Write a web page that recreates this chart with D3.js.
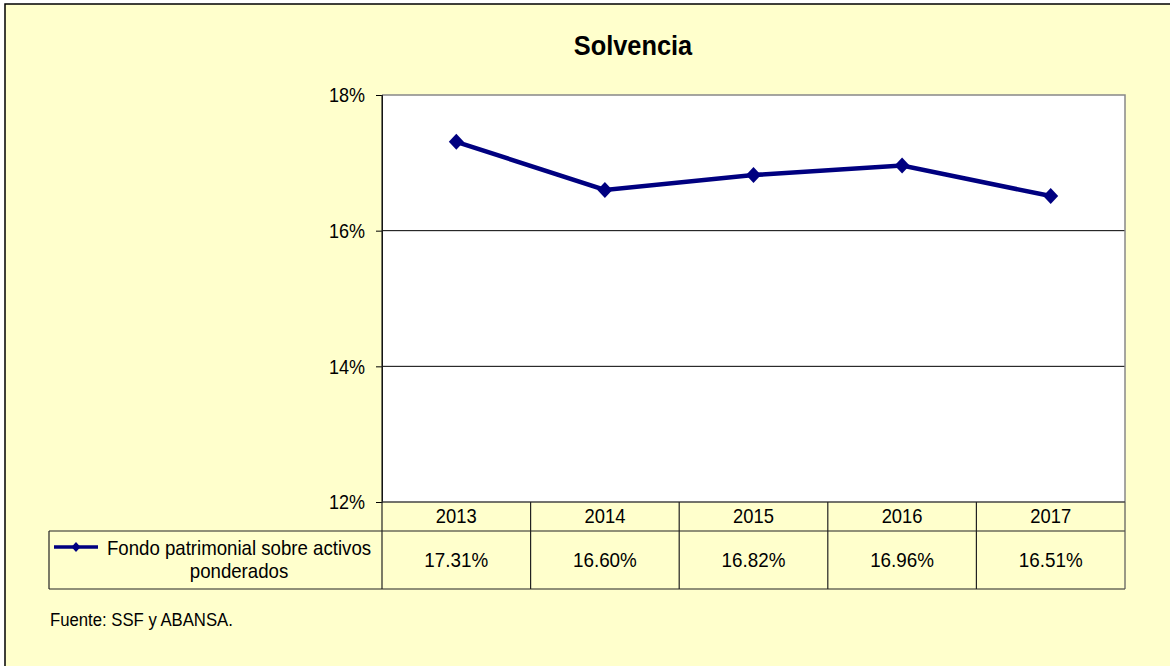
<!DOCTYPE html>
<html>
<head>
<meta charset="utf-8">
<script src="https://cdn.jsdelivr.net/npm/d3@7"></script>
<style>
  body { margin: 0; background: #fff; }
  text { font-family: "Liberation Sans", Arial, sans-serif; fill: #000; }
</style>
</head>
<body>
<div id="graf"></div>
<script>
// Données du graphique
const annees = ["2013", "2014", "2015", "2016", "2017"];
const solvencia = [17.31, 16.60, 16.82, 16.96, 16.51];
const ticks_y = [12, 14, 16, 18];
const titre = "Solvencia";
const nom_serie = ["Fondo patrimonial sobre activos", "ponderados"];
const source = "Fuente: SSF y ABANSA.";

const largeur = 1170, hauteur = 666;
const fond = "#ffffcc", bleu = "#000080";

// Zone du tracé
const gauche = 382, droite = 1125, haut = 95, bas = 502;
const bas_entete = 531, bas_tableau = 589, gauche_tableau = 49;

let svg = d3.select("#graf").append("svg")
  .attr("width", largeur)
  .attr("height", hauteur);

// Texte un peu étroit, comme dans l'original
function texte(x, y, chaine, taille, echelle, ancre) {
  return svg.append("text")
    .attr("transform", `translate(${x},${y}) scale(${echelle},1)`)
    .attr("text-anchor", ancre || "start")
    .style("font-size", taille + "px")
    .text(chaine);
}

function losange(l, h) {
  return `M0,${-h}L${l},0L0,${h}L${-l},0Z`;
}

svg.append("rect")
  .attr("x", 5).attr("y", 4)
  .attr("width", largeur + 10).attr("height", hauteur + 10)
  .attr("fill", fond)
  .attr("stroke", "#000")
  .attr("stroke-width", 1.5);

let x = d3.scaleBand().domain(annees).range([gauche, droite]);
let y = d3.scaleLinear().domain([12, 18]).range([bas, haut]);

// Fond blanc du tracé
svg.append("rect")
  .attr("x", gauche).attr("y", haut)
  .attr("width", droite - gauche).attr("height", bas - haut)
  .attr("fill", "#fff");

// Lignes de grille
svg.append("g").selectAll("line")
  .data(ticks_y.filter(t => t > 12 && t < 18))
  .join("line")
  .attr("x1", gauche).attr("x2", droite)
  .attr("y1", d => y(d)).attr("y2", d => y(d))
  .attr("stroke", "#000").attr("stroke-width", 1);

// Bords gris haut et droit
svg.append("path")
  .attr("d", `M${gauche},${haut}H${droite}V${bas}`)
  .attr("fill", "none")
  .attr("stroke", "#888").attr("stroke-width", 1.5);

// Axe vertical
let axeY = d3.axisLeft(y).tickValues(ticks_y).tickFormat(d => d + "%").tickSize(6).tickPadding(6);
let gy = svg.append("g").attr("transform", `translate(${gauche},0)`).call(axeY);
gy.select(".domain").attr("stroke", "#000");
gy.selectAll("text")
  .attr("font-family", null)
  .style("font-size", "20px")
  .attr("transform", "scale(0.9,1)")
  .attr("x", -17 / 0.9)
  .attr("dy", "0.34em");

// Tableau de données
let g_tab = svg.append("g").attr("stroke", "#222").attr("stroke-width", 1.2).attr("fill", "none");
g_tab.append("line").attr("x1", gauche).attr("x2", droite).attr("y1", bas).attr("y2", bas).attr("stroke", "#444").attr("stroke-width", 1.5);
g_tab.append("line").attr("x1", gauche_tableau).attr("x2", droite).attr("y1", bas_entete).attr("y2", bas_entete);
g_tab.append("line").attr("x1", gauche_tableau).attr("x2", droite).attr("y1", bas_tableau).attr("y2", bas_tableau);
g_tab.append("line").attr("x1", gauche_tableau).attr("x2", gauche_tableau).attr("y1", bas_entete).attr("y2", bas_tableau);
g_tab.selectAll(".sep").data(annees).join("line")
  .attr("class", "sep")
  .attr("x1", d => x(d)).attr("x2", d => x(d))
  .attr("y1", (d, i) => i == 0 ? haut : bas)
  .attr("y2", bas_tableau);
g_tab.append("line").attr("x1", droite).attr("x2", droite).attr("y1", bas).attr("y2", bas_tableau).attr("stroke", "#555");

annees.forEach((a, i) => {
  let cx = x(a) + x.bandwidth() / 2;
  texte(cx, 523, a, 20, 0.92, "middle");
  texte(cx, 567, solvencia[i].toFixed(2) + "%", 20.5, 0.92, "middle");
});

// Légende dans le tableau
svg.append("line")
  .attr("x1", 54).attr("x2", 98).attr("y1", 547).attr("y2", 547)
  .attr("stroke", bleu).attr("stroke-width", 3.5);
svg.append("path")
  .attr("d", losange(4.5, 5))
  .attr("transform", "translate(76,547)")
  .attr("fill", bleu);
texte(239, 555, nom_serie[0], 20.5, 0.91, "middle");
texte(239, 578, nom_serie[1], 20.5, 0.91, "middle");

// Ligne de la série
let ligne = d3.line()
  .x((d, i) => x(annees[i]) + x.bandwidth() / 2)
  .y(d => y(d));
svg.append("path")
  .datum(solvencia)
  .attr("d", ligne)
  .attr("fill", "none")
  .attr("stroke", bleu)
  .attr("stroke-width", 4.5);

svg.append("g").selectAll("path").data(solvencia).join("path")
  .attr("d", losange(7.5, 8))
  .attr("transform", (d, i) => `translate(${x(annees[i]) + x.bandwidth() / 2},${y(d)})`)
  .attr("fill", bleu);

// Titre et source
texte(633, 55, titre, 27, 0.94, "middle").style("font-weight", "bold");
texte(50, 626, source, 19, 0.88);
</script>
</body>
</html>
